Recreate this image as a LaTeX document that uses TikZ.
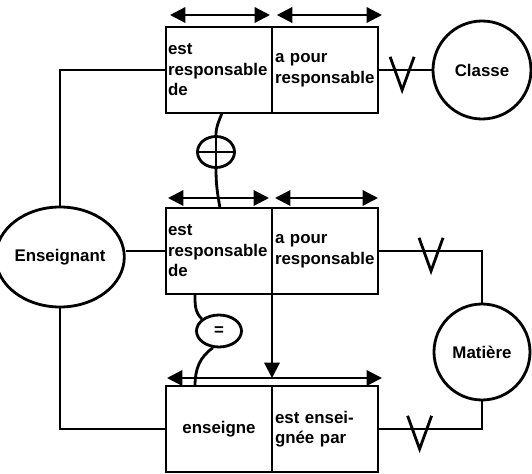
\documentclass[tikz,border=0pt]{standalone}
\usepackage{fontspec}
\setmainfont{Liberation Sans}
\usetikzlibrary{arrows.meta,positioning,shapes.geometric}

\begin{document}
\begin{tikzpicture}[
  line width=2pt,
  every node/.style={font=\fontsize{12}{14.6}\selectfont\bfseries},
  lhalf/.style={rectangle, draw, outer sep=0pt, inner sep=0pt,
                minimum width=2.65cm, minimum height=2.15cm,
                text width=2.55cm, align=left},
  rhalf/.style={lhalf, text width=2.5cm},
  ent/.style={ellipse, draw, inner sep=0pt},
  cnt/.style={ellipse, draw, inner sep=0pt},
  darr/.style={{Triangle[length=11pt,width=11pt]}-{Triangle[length=11pt,width=11pt]}, line width=1.6pt},
  sarr/.style={-{Triangle[length=11pt,width=11pt]}, line width=1.6pt}
]
\useasboundingbox (0,0) rectangle (13.3,11.825);

% Relations
\node[lhalf] (trl) at (5.475,10.075) {est\\responsable\\de};
\node[rhalf, right=0pt of trl] (trr) {a pour\\responsable};
\node[lhalf] (mrl) at (5.475,5.55) {est\\responsable\\de};
\node[rhalf, right=0pt of mrl] (mrr) {a pour\\responsable};
\node[lhalf, align=center] (brl) at (5.475,1.1) {enseigne};
\node[rhalf, right=0pt of brl] (brr) {est ensei-\\gnée par};

% Entities
\node[ent, minimum width=2.75cm, minimum height=2.5cm] (ens) at (1.5,5.4) {Enseignant};
\node[ent, minimum size=2.45cm] (cla) at (12.05,10.075) {Classe};
\node[ent, minimum size=2.4cm] (mat) at (12.05,3.025) {Matière};

% Constraints
\node[cnt, minimum width=0.925cm, minimum height=0.775cm] (plus) at (5.4,8.025) {};
\node[cnt, minimum width=1.125cm, minimum height=0.8cm] (egal) at (5.475,3.55) {=};

% Links
\draw (ens.north) |- (trl.west);
\draw (mrl.west) -- (mrl.west -| ens.east);
\draw (ens.south) |- (brl.west);
\draw (trr.east) -- coordinate[pos=0.45] (v1) (cla.west);
\draw (mrr.east) -| coordinate[pos=0.255] (v2) (mat.north);
\draw (brr.east) -| coordinate[pos=0.2] (v3) (mat.south);
\foreach \v in {v1,v2,v3}
  \draw (\v) ++(-0.3,0.33) -- ++(0.3,-0.83) -- ++(0.3,0.83);

% Roles
\draw[darr] ([shift={(0.1,0.3)}]trl.north west) -- ([shift={(-0.05,0.3)}]trl.north east);
\draw[darr] ([shift={(0.12,0.3)}]trr.north west) -- ([shift={(0.1,0.3)}]trr.north east);
\draw[darr] ([shift={(0.05,0.25)}]mrl.north west) -- ([shift={(-0.075,0.25)}]mrl.north east);
\draw[darr] ([shift={(0.075,0.25)}]mrr.north west) -- ([shift={(0,0.25)}]mrr.north east);
\draw[darr] ([shift={(0.025,0.2)}]brl.north west) -- ([shift={(0.1,0.2)}]brr.north east);
\draw[sarr] (mrl.south east) -- ([yshift=0.2cm]brl.north east);

% Constraint links
\draw ([xshift=0.075cm]trl.south) to[out=250,in=90] (plus.north);
\draw (plus.north) -- (plus.south);
\draw (plus.west) -- (plus.east);
\draw (plus.south) to[out=-90,in=100] ([xshift=0.025cm]mrl.north);
\draw ([xshift=-0.6cm]mrl.south) to[out=-90,in=135] (egal.145);
\draw (egal.250) to[out=215,in=90] ([xshift=-0.6cm]brl.north);
\end{tikzpicture}
\end{document}
